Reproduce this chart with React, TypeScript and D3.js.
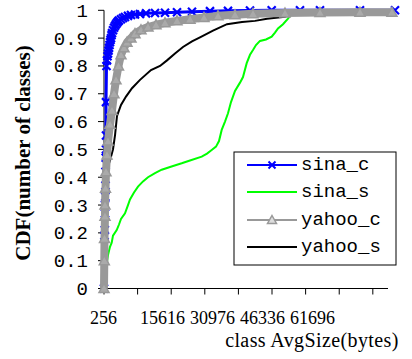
import React from "react";
import * as d3 from "d3";

// ---- data (x: class AvgSize in bytes, y: CDF) ----
const sinaCX = [256, 370, 439, 485, 485, 553, 599, 599, 645, 713, 713, 713, 827, 942, 1056, 1170, 1285, 1399, 1513, 1627, 1742, 1856, 1970, 2084, 2313, 2542, 2770, 2999, 3227, 3456, 3684, 4141, 4598, 5056, 5741, 6427, 7341, 8484, 9855, 11912, 14198, 16941, 20368, 24482, 28597, 33624, 38583, 45052, 49623, 58765, 66764];
const sinaCY = [0, 0.19, 0.21, 0.27, 0.3, 0.33, 0.37, 0.42, 0.47, 0.5, 0.55, 0.67, 0.8, 0.82, 0.835, 0.845, 0.855, 0.865, 0.875, 0.885, 0.893, 0.9, 0.91, 0.918, 0.928, 0.937, 0.944, 0.95, 0.955, 0.96, 0.963, 0.968, 0.972, 0.976, 0.98, 0.983, 0.985, 0.987, 0.989, 0.99, 0.991, 0.993, 0.995, 0.997, 0.998, 0.999, 1.0, 1.0, 1.0, 1.0, 1.0];

const sinaSX = [256, 370, 485, 873, 1170, 1627, 2016, 2313, 3159, 3684, 4141, 5056, 5741, 6198, 7113, 8027, 9169, 10312, 11912, 13443, 15341, 18014, 19911, 22585, 23797, 24871, 25854, 26539, 27156, 27911, 28597, 29282, 30196, 31339, 32023, 32871, 33624, 34310, 34996, 35910, 37281, 38583, 39338, 40024, 41167, 42310, 42767, 43223, 43909];
const sinaSY = [0, 0.03, 0.07, 0.09, 0.12, 0.15, 0.165, 0.19, 0.21, 0.23, 0.25, 0.27, 0.3, 0.32, 0.345, 0.366, 0.385, 0.4, 0.415, 0.427, 0.437, 0.45, 0.46, 0.474, 0.485, 0.498, 0.51, 0.53, 0.57, 0.6, 0.63, 0.67, 0.71, 0.74, 0.76, 0.81, 0.84, 0.857, 0.875, 0.89, 0.895, 0.905, 0.92, 0.935, 0.95, 0.97, 0.98, 0.99, 1.0];

const yahooCX = [256, 325, 370, 485, 485, 599, 713, 942, 1170, 1627, 2084, 2542, 2999, 3570, 4141, 4827, 5513, 6427, 7341, 8712, 10312, 12141, 14198, 16941, 19911, 23111, 26311, 30196, 34310, 41624, 49623, 58765, 66078];
const yahooCY = [0, 0.1, 0.18, 0.26, 0.3, 0.36, 0.42, 0.48, 0.53, 0.59, 0.64, 0.7, 0.75, 0.8, 0.84, 0.865, 0.885, 0.9, 0.916, 0.93, 0.94, 0.948, 0.955, 0.962, 0.968, 0.974, 0.98, 0.984, 0.988, 0.99, 0.992, 0.993, 0.993];

const yahooSX = [256, 485, 485, 599, 713, 942, 1170, 1627, 2313, 2770, 3227, 4141, 5284, 6655, 8484, 10998, 13055, 14655, 16484, 18311, 20368, 22197, 25168, 28368, 31796, 34767, 37510, 41624, 43452];
const yahooSY = [0, 0.05, 0.2, 0.3, 0.38, 0.42, 0.44, 0.46, 0.5, 0.55, 0.62, 0.66, 0.69, 0.72, 0.75, 0.785, 0.8, 0.82, 0.845, 0.868, 0.888, 0.903, 0.927, 0.95, 0.958, 0.962, 0.97, 0.977, 0.99];

const yTicks = [0, 0.1, 0.2, 0.3, 0.4, 0.5, 0.6, 0.7, 0.8, 0.9, 1];
const yTickLabels = ["0", "0.1", "0.2", "0.3", "0.4", "0.5", "0.6", "0.7", "0.8", "0.9", "1"];
const xTicks = [256, 7936, 15616, 23296, 30976, 38656, 46336, 54016, 61696];
const xTickLabels = ["256", "15616", "30976", "46336", "61696"];
const xLabelValues = [256, 15616, 30976, 46336, 61696];
const legendNames = ["sina_c", "sina_s", "yahoo_c", "yahoo_s"];

const BLUE = "#0000ff";
const GREEN = "#00ff00";
const GRAY = "#999999";
const BLACK = "#000000";

export default function App() {
  const x = d3.scaleLinear().domain([256, 65165]).range([104, 388]);
  const y = d3.scaleLinear().domain([0, 1]).range([288.5, 10.3]);
  const xLab = d3.scaleLinear().domain([256, 61696]).range([90, 290]);

  const mk = (xs: number[], ys: number[]) => xs.map((v, i) => [v, ys[i]] as [number, number]);
  const line = d3.line<[number, number]>().x((d) => x(d[0])).y((d) => y(d[1]));

  const sinaC = mk(sinaCX, sinaCY);
  const sinaS = mk(sinaSX, sinaSY);
  const yahooC = mk(yahooCX, yahooCY);
  const yahooS = mk(yahooSX, yahooSY);

  const xMark = "M-3.5,-3.5L3.5,3.5M-3.5,3.5L3.5,-3.5";
  const xMarkBig = "M-4,-4L4,4M-4,4L4,-4";
  const tri = "M0,-4.5L4.5,3.5L-4.5,3.5Z";
  const triBig = "M0,-5L5,4L-5,4Z";

  const mono = "'Liberation Mono', 'Courier New', monospace";
  const serif = "'Liberation Serif', 'Times New Roman', serif";

  const legendRows = [165, 192, 220, 247];
  const legendColors = [BLUE, GREEN, GRAY, BLACK];

  return (
    <svg width={412} height={359} style={{ position: "absolute", left: 0, top: 0, background: "#fff" }}>
      <rect x={0} y={0} width={412} height={359} fill="#fff" />
      {/* axes */}
      <line x1={104} x2={104} y1={y(1)} y2={y(0)} stroke="#000" strokeWidth={1} />
      <line x1={104} x2={388} y1={y(0)} y2={y(0)} stroke="#000" strokeWidth={1} />
      {yTicks.map((t, i) => (
        <g key={"yt" + i}>
          <line x1={98} x2={104} y1={y(t)} y2={y(t)} stroke="#000" />
          <text x={88} y={y(t) + 6.5} textAnchor="end" fontFamily={mono} fontSize={19}>
            {yTickLabels[i]}
          </text>
        </g>
      ))}
      {xTicks.map((t, i) => (
        <line key={"xt" + i} x1={x(t)} x2={x(t)} y1={y(0)} y2={y(0) + 6} stroke="#000" />
      ))}
      {xLabelValues.map((v, i) => (
        <text key={"xl" + i} x={xLab(v)} y={324} fontFamily={serif} fontSize={18}>
          {xTickLabels[i]}
        </text>
      ))}
      <text x={312} y={347} textAnchor="middle" fontFamily={serif} fontSize={20} letterSpacing={0.4}>
        class AvgSize(bytes)
      </text>
      <text
        transform="translate(30,153) rotate(-90)"
        textAnchor="middle"
        fontFamily={serif}
        fontSize={21}
        fontWeight="bold"
      >
        CDF(number of classes)
      </text>

      {/* series */}
      <path d={line(sinaC) || ""} fill="none" stroke={BLUE} strokeWidth={3} strokeLinejoin="round" />
      {sinaC.map((d, i) => (
        <path key={"bm" + i} d={xMarkBig} transform={`translate(${x(d[0])},${y(d[1])})`} stroke={BLUE} strokeWidth={2.2} fill="none" />
      ))}
      <path d={line(sinaS) || ""} fill="none" stroke={GREEN} strokeWidth={2} />
      <path d={line(yahooS) || ""} fill="none" stroke={BLACK} strokeWidth={2} />
      <path d={line(yahooC) || ""} fill="none" stroke={GRAY} strokeWidth={8} strokeLinejoin="round" />
      {yahooC.map((d, i) => (
        <path key={"gm" + i} d={triBig} transform={`translate(${x(d[0])},${y(d[1])})`} stroke={GRAY} strokeWidth={1.5} fill="#aaaaaa" />
      ))}

      {/* legend */}
      <rect x={234} y={152} width={162} height={113} fill="#fff" stroke="#000" strokeWidth={1} />
      {legendNames.map((n, i) => (
        <g key={"lg" + i}>
          <line x1={247} x2={297} y1={legendRows[i]} y2={legendRows[i]} stroke={legendColors[i]} strokeWidth={2} />
          {i === 0 && (
            <path d={xMark} transform={`translate(272,${legendRows[i]})`} stroke={BLUE} strokeWidth={2} fill="none" />
          )}
          {i === 2 && (
            <path d={tri} transform={`translate(272,${legendRows[i]})`} stroke={GRAY} strokeWidth={1.5} fill="#dddddd" />
          )}
          <text x={301} y={legendRows[i] + 5} fontFamily={mono} fontSize={19}>
            {n}
          </text>
        </g>
      ))}
    </svg>
  );
}
